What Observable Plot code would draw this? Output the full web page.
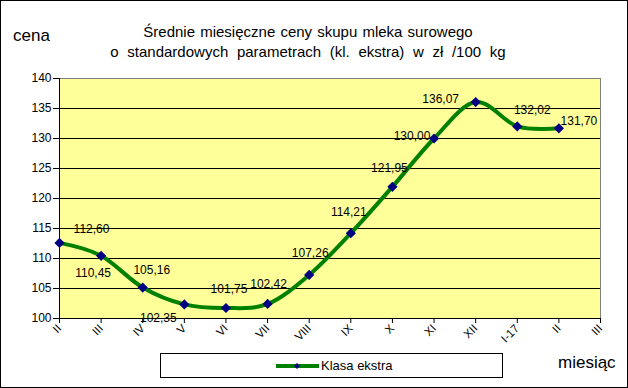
<!DOCTYPE html>
<html><head><meta charset="utf-8">
<script src="https://cdn.jsdelivr.net/npm/d3@7"></script>
<script src="https://cdn.jsdelivr.net/npm/@observablehq/plot@0.6"></script>
<style>
body{margin:0;background:#fff;font-family:"Liberation Sans",Arial,sans-serif;}
#wrap{position:relative;width:628px;height:388px;overflow:hidden;background:#fff;}
#chart{position:absolute;left:0;top:0;}
#border{position:absolute;left:0;top:0;width:628px;height:388px;box-sizing:border-box;border:1px solid #000;pointer-events:none;}
.title{position:absolute;left:0;top:22px;width:616px;text-align:center;font-size:15px;line-height:20px;color:#000;word-spacing:1px;}
.title .l2{word-spacing:4.5px;}
.axt{position:absolute;font-size:17px;line-height:20px;color:#000;}
#legend{position:absolute;left:160px;top:353px;width:343px;height:25px;box-sizing:border-box;border:1px solid #000;background:#fff;}
#legend svg{position:absolute;left:114px;top:0;}
#legend span{position:absolute;left:160px;top:4px;font-size:13px;line-height:16px;}
</style></head><body>
<div id="wrap">
  <div id="chart"></div>
  <div class="title">Średnie miesięczne ceny skupu mleka surowego<br><span class="l2">o standardowych parametrach (kl. ekstra) w zł /100 kg</span></div>
  <div class="axt" style="left:13px;top:26px;">cena</div>
  <div class="axt" style="left:558px;top:353px;">miesiąc</div>
  <div id="legend">
    <svg width="46" height="23"><line x1="1" x2="44" y1="12" y2="12" stroke="#008000" stroke-width="4"/><path d="M22,9 L25,12 L22,15 L19,12 Z" fill="#000080"/></svg>
    <span>Klasa ekstra</span>
  </div>
  <div id="border"></div>
</div>
<script>
const tickLabels = ["II","III","IV","V","VI","VII","VIII","IX","X","XI","XII","I-17","II","III"];
const months = ["II","III","IV","V","VI","VII","VIII","IX","X","XI","XII","I-17","II"];
const prices = [112.60,110.45,105.16,102.35,101.75,102.42,107.26,114.21,121.95,130.00,136.07,132.02,131.70];
const labelOffsets = [[32,-14],[-8,17],[9,-17],[-26,14],[3,-19],[1,-20],[1,-22],[-2,-21],[-3,-19],[-22,-2],[-35,-3],[15,-16],[20,-7]];

const data = prices.map((v, i) => ({i, month: months[i], v}));
const fmt = v => v.toFixed(2).replace(".", ",");

const labelMarks = data.map((d, k) => Plot.text([d], {
  x: "i", y: "v", text: d => fmt(d.v),
  dx: labelOffsets[k][0], dy: labelOffsets[k][1],
  fontSize: 12, fill: "black"
}));

const plot = Plot.plot({
  width: 628, height: 388,
  marginTop: 78, marginBottom: 70, marginLeft: 59, marginRight: 28,
  style: {fontFamily: '"Liberation Sans", Arial, sans-serif', fontSize: "12px", color: "black", background: "transparent", overflow: "visible"},
  x: {type: "linear", domain: [0, 13]},
  y: {domain: [100, 140]},
  marks: [
    Plot.frame({fill: "#FFFF99", stroke: "#808080"}),
    Plot.gridY({ticks: d3.range(105, 140, 5), stroke: "black", strokeOpacity: 1}),
    Plot.ruleX([0], {stroke: "black"}),
    Plot.ruleY([100], {stroke: "black"}),
    Plot.axisY({ticks: d3.range(100, 141, 5), tickSize: 6, tickPadding: 2, label: null, fontSize: 12}),
    Plot.axisX({ticks: d3.range(14), tickFormat: i => tickLabels[i], tickRotate: -45, tickSize: 5, tickPadding: 3, label: null, fontSize: 11.5}),
    Plot.line(data, {x: "i", y: "v", curve: "cardinal", stroke: "#008000", strokeWidth: 4}),
    Plot.dot(data, {x: "i", y: "v", symbol: "diamond2", r: 4.6, fill: "#000080"}),
    ...labelMarks
  ]
});
document.getElementById("chart").appendChild(plot);
</script>
</body></html>
